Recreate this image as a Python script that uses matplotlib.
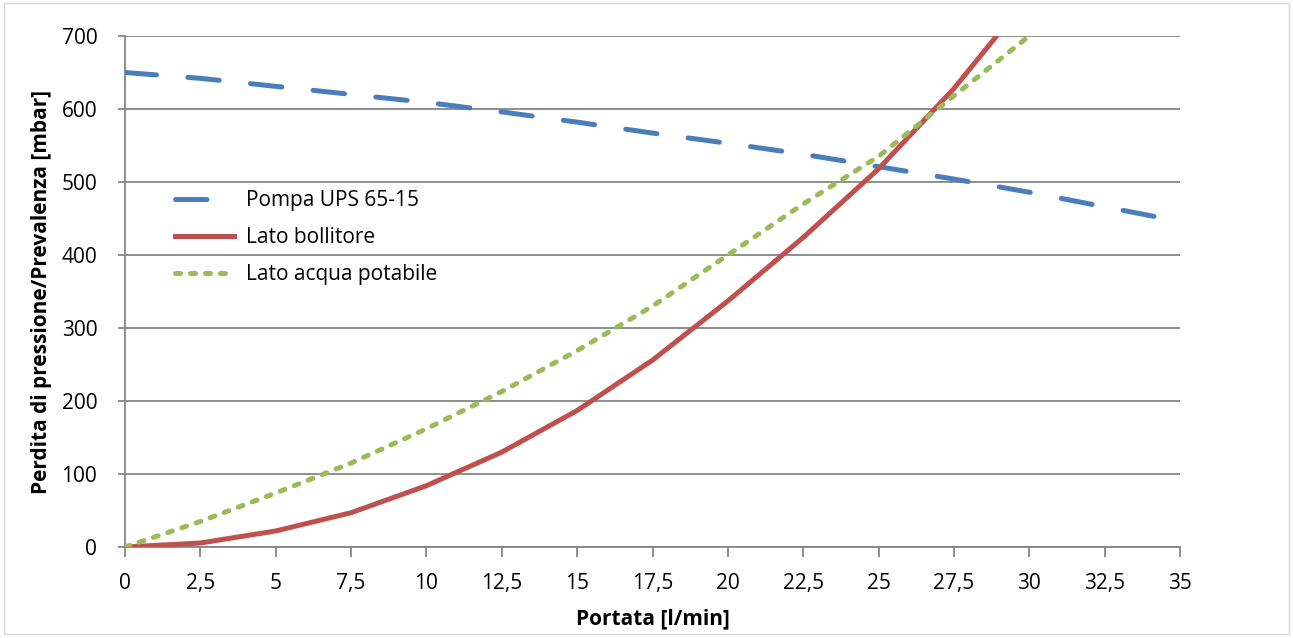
# Perdita di pressione / prevalenza vs portata

import numpy as np
import matplotlib.pyplot as plt
from matplotlib.patches import Rectangle

# Dati
portata = [0, 2.5, 5, 7.5, 10, 12.5, 15, 17.5, 20, 22.5, 25, 27.5, 30, 32.5, 35]
pompa = [650, 642, 631, 620, 609, 596, 582, 567, 553, 538, 521, 504, 486, 466, 446]

portata_b = [0, 2.5, 5, 7.5, 10, 12.5, 15, 17.5, 20, 22.5, 25, 27.5, 30]
bollitore = [0, 5.5, 22, 47, 84, 130, 187, 256, 337, 424, 518, 628, 755]
acqua = [0, 35, 74, 115, 162, 213, 269, 330, 400, 470, 535, 618, 700]

x_ticks = np.arange(0, 35.1, 2.5)
x_labels = [f"{v:g}".replace(".", ",") for v in x_ticks]
y_ticks = np.arange(0, 701, 100)

plt.rcParams['font.family'] = ['Open Sans', 'DejaVu Sans']

fig = plt.figure(figsize=(12.93, 6.38), dpi=100)
ax = fig.add_axes([0.0967, 0.1426, 0.8159, 0.801])

grid_col = '#868686'

ax.plot(portata, pompa, color='#4a7ebb', linewidth=3.6,
        dashes=(6.3, 6.3), dash_capstyle='round', label='Pompa UPS 65-15', zorder=3)
ax.plot(portata_b, bollitore, color='#c0504d', linewidth=3.6,
        label='Lato bollitore', zorder=3)
ax.plot(portata_b, acqua, color='#9bbb59', linewidth=3.6,
        dashes=(1.0, 2.0), dash_capstyle='round', label='Lato acqua potabile', zorder=3)

ax.set_xlim(0, 35)
ax.set_ylim(0, 700)
ax.set_xticks(x_ticks)
ax.set_xticklabels(x_labels)
ax.set_yticks(y_ticks)

ax.grid(axis='y', color=grid_col, linewidth=1.3)
ax.set_axisbelow(True)
for s in ['top', 'right']:
    ax.spines[s].set_visible(False)
for s in ['left', 'bottom']:
    ax.spines[s].set_color(grid_col)
    ax.spines[s].set_linewidth(1.3)
ax.tick_params(axis='both', direction='out', color=grid_col, width=1.3,
               labelsize=15, labelcolor='black')
ax.tick_params(axis='x', length=7, pad=12)
ax.tick_params(axis='y', length=5, pad=15)

ax.set_xlabel('Portata [l/min]', fontsize=15, fontweight='bold', labelpad=10)
ax.set_ylabel('Perdita di pressione/Prevalenza [mbar]', fontsize=15,
              fontweight='bold', labelpad=7)

ax.legend(loc='upper left', bbox_to_anchor=(0.03, 0.735), frameon=False,
          fontsize=15, handlelength=2.8, labelspacing=0.76, handletextpad=0.6)

fig.patches.append(Rectangle((0.003, 0.006), 0.994, 0.99, transform=fig.transFigure,
                             fill=False, edgecolor='#d9d9d9', linewidth=1))

fig.savefig('out.png', dpi=100)
